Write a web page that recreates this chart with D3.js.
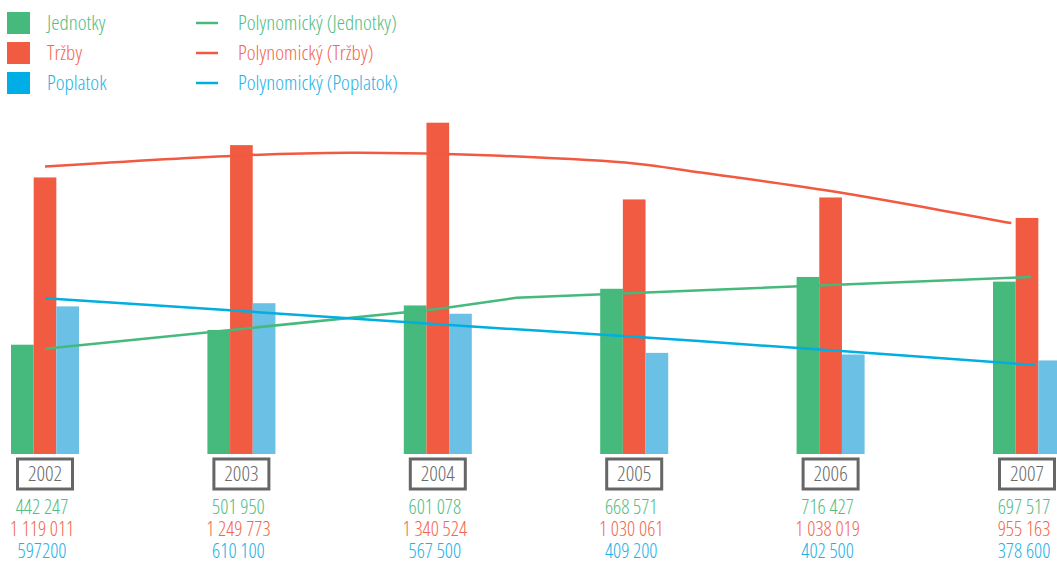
<!DOCTYPE html>
<html>
<head>
<meta charset="utf-8">
<script src="https://cdnjs.cloudflare.com/ajax/libs/d3/7.8.5/d3.min.js"></script>
<style>
  body { margin: 0; background: #fff; }
  text {
    font-family: "Open Sans", "Liberation Sans Narrow", sans-serif;
    font-stretch: 75%;
    font-weight: 300;
  }
</style>
</head>
<body>
<div class="chart"></div>
<script>
// data
var years = ["2002", "2003", "2004", "2005", "2006", "2007"];
var seriesNames = ["Jednotky", "Tržby", "Poplatok"];
var jednotky = [442247, 501950, 601078, 668571, 716427, 697517];
var trzby = [1119011, 1249773, 1340524, 1030061, 1038019, 955163];
var poplatok = [597200, 610100, 567500, 409200, 402500, 378600];

var jednotkyLabels = ["442 247", "501 950", "601 078", "668 571", "716 427", "697 517"];
var trzbyLabels = ["1 119 011", "1 249 773", "1 340 524", "1 030 061", "1 038 019", "955 163"];
var poplatokLabels = ["597200", "610 100", "567 500", "409 200", "402 500", "378 600"];

// trend lines: [category position, value]
var trendJednotky = [[0, 425900], [2, 586500], [2.4, 632200], [5.02, 716000]];
var trendTrzby = [[0, 1163700], [1, 1208200], [1.55, 1218800], [2, 1214700], [2.32, 1206600],
                  [3, 1175900], [3.34, 1138700], [4, 1063800], [4.92, 934400]];
var trendPoplatok = [[0, 629800], [1, 578400], [2, 524600], [3, 474500], [4, 419500], [5.04, 360000]];

var legendLines = ["Polynomický (Jednotky)", "Polynomický (Tržby)", "Polynomický (Poplatok)"];

// colours
var barColors = ["#46b97c", "#f05b41", "#6ac0e5"];
var lineColors = ["#46b97c", "#f15a40", "#00aedf"];
var legendSquare = ["#46b97c", "#f05b41", "#00aee6"];
var textColors = ["#52bd84", "#f2684f", "#1db2e6"];

var svgWidth = 1057;
var svgHeight = 561;

var svg = d3.select(".chart")
  .append("svg")
  .attr("width", svgWidth)
  .attr("height", svgHeight);

// scales
var x0 = d3.scalePoint().domain(years).range([45, 1027]);
var xIdx = d3.scaleLinear().domain([0, 5]).range([45, 1027]);
var x1 = d3.scaleBand().domain(seriesNames).range([-34, 34]);
var y = d3.scaleLinear().domain([0, 1400000]).range([454, 108]);

var values = [jednotky, trzby, poplatok];

// bars
var groups = svg.append("g").selectAll("g")
  .data(years)
  .enter()
  .append("g")
  .attr("transform", d => `translate(${x0(d)},0)`);

groups.selectAll("rect")
  .data((d, i) => seriesNames.map((s, j) => ({ s: s, v: values[j][i], j: j })))
  .enter()
  .append("rect")
  .attr("x", d => x1(d.s))
  .attr("width", x1.bandwidth())
  .attr("y", d => y(d.v))
  .attr("height", d => y(0) - y(d.v))
  .attr("fill", d => barColors[d.j]);

// trend lines
var line = d3.line()
  .x(d => xIdx(d[0]))
  .y(d => y(d[1]));

svg.append("path")
  .attr("d", line.curve(d3.curveCatmullRom)(trendTrzby))
  .attr("fill", "none")
  .attr("stroke", lineColors[1])
  .attr("stroke-width", 2.5);

svg.append("path")
  .attr("d", line.curve(d3.curveLinear)(trendJednotky))
  .attr("fill", "none")
  .attr("stroke", lineColors[0])
  .attr("stroke-width", 2.5);

svg.append("path")
  .attr("d", line.curve(d3.curveCatmullRom)(trendPoplatok))
  .attr("fill", "none")
  .attr("stroke", lineColors[2])
  .attr("stroke-width", 2.5);

// year boxes
var yearG = svg.append("g").selectAll("g")
  .data(years)
  .enter()
  .append("g")
  .attr("transform", d => `translate(${x0(d)},0)`);

yearG.append("rect")
  .attr("x", -27.5)
  .attr("y", 459)
  .attr("width", 55)
  .attr("height", 30)
  .attr("fill", "#fff")
  .attr("stroke", "#666")
  .attr("stroke-width", 3);

yearG.append("text")
  .attr("x", 0)
  .attr("y", 481)
  .attr("text-anchor", "middle")
  .attr("font-size", 21)
  .attr("fill", "#6b6b6b")
  .text(d => d);

// value labels under each year
var labelSets = [jednotkyLabels, trzbyLabels, poplatokLabels];
labelSets.forEach(function(set, j) {
  yearG.append("text")
    .attr("x", -3)
    .attr("y", 514 + j * 22)
    .attr("text-anchor", "middle")
    .attr("font-size", 20)
    .attr("fill", textColors[j])
    .text((d, i) => set[i]);
});

// legend
var legend = svg.append("g");
seriesNames.forEach(function(s, j) {
  legend.append("rect")
    .attr("x", 7)
    .attr("y", 12 + j * 30)
    .attr("width", 23)
    .attr("height", 22)
    .attr("fill", legendSquare[j]);
  legend.append("text")
    .attr("x", 47)
    .attr("y", 30 + j * 30)
    .attr("font-size", 21)
    .attr("fill", textColors[j])
    .text(s);
  legend.append("line")
    .attr("x1", 196)
    .attr("x2", 218)
    .attr("y1", 23 + j * 30)
    .attr("y2", 23 + j * 30)
    .attr("stroke", lineColors[j])
    .attr("stroke-width", 2.5);
  legend.append("text")
    .attr("x", 238)
    .attr("y", 30 + j * 30)
    .attr("font-size", 21)
    .attr("fill", textColors[j])
    .text(legendLines[j]);
});
</script>
</body>
</html>
